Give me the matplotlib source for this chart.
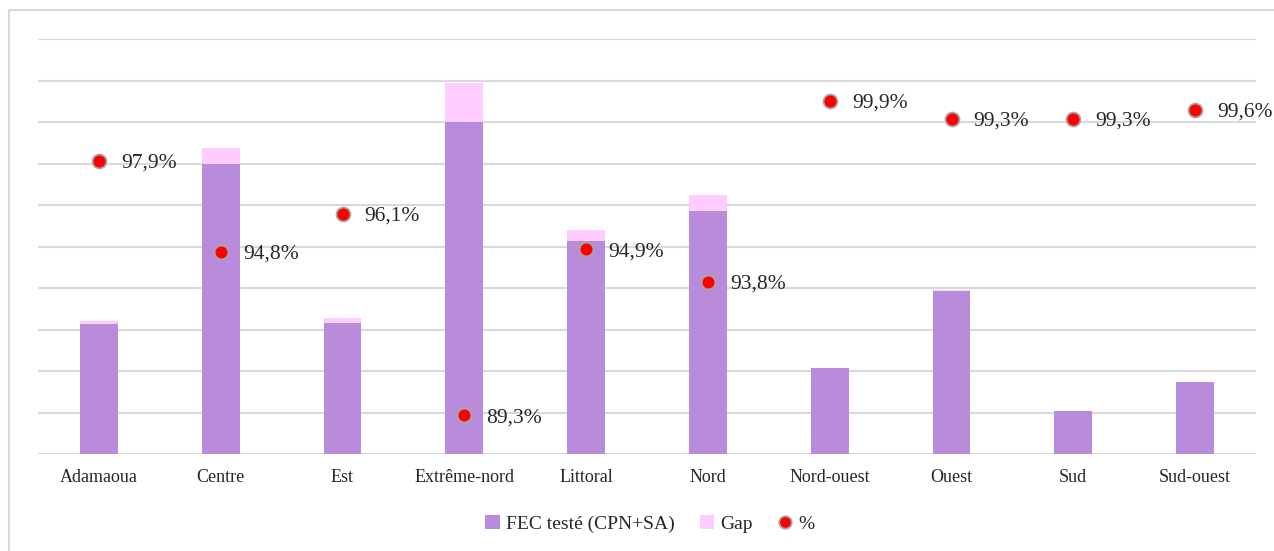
import matplotlib.pyplot as plt
from matplotlib.lines import Line2D
from matplotlib.patches import Patch
import numpy as np

# Data by region
regions = ['Adamaoua', 'Centre', 'Est', 'Extrême-nord', 'Littoral',
           'Nord', 'Nord-ouest', 'Ouest', 'Sud', 'Sud-ouest']
fec_teste = [3130, 6990, 3160, 7990, 5130, 5860, 2070, 3930, 1040, 1730]
gap = [67, 383, 128, 957, 276, 387, 2, 28, 7, 7]
pct = [97.9, 94.8, 96.1, 89.3, 94.9, 93.8, 99.9, 99.3, 99.3, 99.6]

purple = '#B98CDB'
pink = '#FFCCFF'
grid_col = '#D9D9D9'
text_col = '#262626'

plt.rcParams['font.family'] = ['Liberation Serif', 'DejaVu Serif']

fig = plt.figure(figsize=(12.74, 5.51), dpi=100)
ax = fig.add_axes([38 / 1274, 97 / 551, 1218 / 1274, 415 / 551])

x = np.arange(len(regions))
ax.bar(x, fec_teste, width=0.31, color=purple, zorder=2)
ax.bar(x, gap, width=0.31, bottom=fec_teste, color=pink, zorder=2)

# Percentage on a secondary scale
ax2 = ax.twinx()
ax2.set_ylim(88, 102)
ax2.plot(x, pct, linestyle='none', marker='o', markersize=10,
         markerfacecolor='#FF0000', markeredgecolor='#A6A6A6',
         markeredgewidth=1.3, zorder=3)
for xi, p in zip(x, pct):
    ax2.annotate(f'{p:.1f}%'.replace('.', ','), (xi, p),
                 xytext=(16, -1.5), textcoords='offset points',
                 ha='left', va='center', fontsize=15.5, color=text_col)
ax2.set_yticks([])
for s in ax2.spines.values():
    s.set_visible(False)

ax.set_xlim(-0.5, len(regions) - 0.5)
ax.set_ylim(0, 10000)
ax.set_yticks(np.arange(0, 10001, 1000))
ax.yaxis.grid(True, color=grid_col, linewidth=1.5)
ax.set_axisbelow(True)
ax.tick_params(axis='y', left=False, right=False, labelleft=False)
ax.set_xticks(x)
ax.set_xticklabels(regions, fontsize=13, color=text_col)
ax.tick_params(axis='x', length=0, pad=11)
for s in ax.spines.values():
    s.set_visible(False)

handles = [
    Patch(facecolor=purple, label='FEC testé (CPN+SA)'),
    Patch(facecolor=pink, label='Gap'),
    Line2D([], [], linestyle='none', marker='o', markersize=9,
           markerfacecolor='#FF0000', markeredgecolor='#A6A6A6',
           markeredgewidth=1.3, label='%'),
]
fig.legend(handles=handles, loc='center', bbox_to_anchor=(0.51, 1 - 524 / 551),
           ncol=3, frameon=False, fontsize=14, handlelength=0.75,
           handleheight=0.75, handletextpad=0.3, columnspacing=1.3,
           labelcolor=text_col)

# Chart frame
fig.add_artist(Line2D([9 / 1274, 9 / 1274], [0, 1 - 10 / 551],
                      transform=fig.transFigure, color=grid_col, linewidth=1.5))
fig.add_artist(Line2D([9 / 1274, 1], [1 - 10 / 551, 1 - 10 / 551],
                      transform=fig.transFigure, color=grid_col, linewidth=1.5))

fig.savefig('out.png', dpi=100)
